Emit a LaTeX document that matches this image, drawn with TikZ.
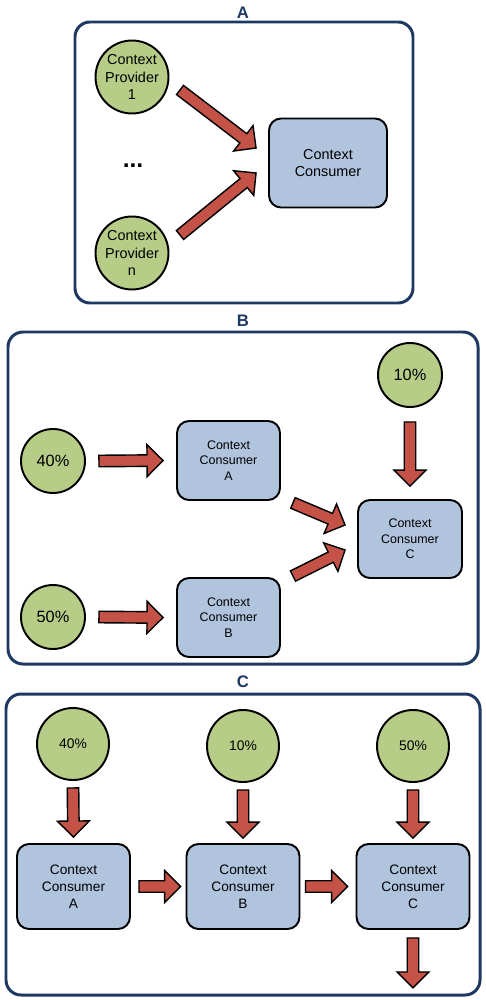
\documentclass[tikz,border=0pt]{standalone}
\usepackage{fontspec}
\setmainfont{Liberation Sans}
\usetikzlibrary{calc}

\definecolor{provgreen}{RGB}{183,205,135}
\definecolor{consblue}{RGB}{176,196,222}
\definecolor{arrowred}{RGB}{196,82,70}
\definecolor{framenavy}{RGB}{30,56,98}

% fat outlined arrow from one point to another
\newcommand{\fatarrow}[2]{%
  \coordinate (fa-s) at (#1);
  \coordinate (fa-t) at (#2);
  \coordinate (fa-b) at ($(fa-t)!0.32cm!(fa-s)$);
  \draw[fat arrow] ($(fa-s)!0.115cm!90:(fa-t)$) -- ($(fa-b)!0.115cm!90:(fa-t)$)
    -- ($(fa-b)!0.32cm!90:(fa-t)$) -- (fa-t) -- ($(fa-b)!0.32cm!-90:(fa-t)$)
    -- ($(fa-b)!0.115cm!-90:(fa-t)$) -- ($(fa-s)!0.115cm!-90:(fa-t)$) -- cycle;}

\begin{document}
\begin{tikzpicture}[x=0.02cm,y=-0.02cm,
    prov/.style={circle,draw=black,fill=provgreen,line width=1.1pt,inner sep=0pt,align=center},
    cons/.style={rectangle,rounded corners=0.24cm,draw=black,fill=consblue,line width=1.1pt,inner sep=0pt,align=center},
    frame/.style={draw=framenavy,line width=1.7pt,rounded corners=0.3cm},
    title/.style={text=framenavy,font=\fontsize{9.5}{10}\selectfont\bfseries},
    fat arrow/.style={draw=black,fill=arrowred,line width=0.8pt,line join=miter}]
  \useasboundingbox (0,0) rectangle (486,1000);

  % panel A
  \node[title] (titleA) at (243,13) {A};
  \draw[frame] (75,22) rectangle (413,303);
  \begin{scope}[every node/.append style={font=\fontsize{8.2}{10}\selectfont}]
    \node[prov,minimum size=1.46cm] (cp1) at (132,77) {Context\\Provider\\1};
    \node[prov,minimum size=1.46cm] (cpn) at (132,253) {Context\\Provider\\n};
    \node[cons,minimum width=2.36cm,minimum height=1.78cm] (cc) at (328,163) {Context\\Consumer};
  \end{scope}
  \node[font=\fontsize{14}{14}\selectfont\bfseries] (dots) at (133,166) {...};
  \fatarrow{$(cp1.center)+(48,13)$}{$(cc.west)+(-12,-15)$}
  \fatarrow{$(cpn.center)+(48,-18)$}{$(cc.west)+(-12,10)$}

  % panel B
  \node[title] (titleB) at (243,321) {B};
  \draw[frame] (8,332) rectangle (478,664);
  \begin{scope}[every node/.append style={font=\fontsize{9.3}{10}\selectfont}]
    \node[prov,minimum size=1.28cm] (b40) at (53,461) {40\%};
    \node[prov,minimum size=1.28cm] (b50) at (53,617) {50\%};
    \node[prov,minimum size=1.28cm] (b10) at (410,375) {10\%};
  \end{scope}
  \begin{scope}[every node/.append style={font=\fontsize{7.1}{8.9}\selectfont}]
    \node[cons,minimum width=2.06cm,minimum height=1.58cm] (bA) at (228.5,460.5) {Context\\Consumer\\A};
    \node[cons,minimum width=2.06cm,minimum height=1.58cm] (bB) at (228.5,617.5) {Context\\Consumer\\B};
    \node[cons,minimum width=2.08cm,minimum height=1.56cm] (bC) at (410,539) {Context\\Consumer\\C};
  \end{scope}
  \fatarrow{$(b40.east)+(13,0)$}{$(bA.west)+(-13,0)$}
  \fatarrow{$(b50.east)+(13,0)$}{$(bB.west)+(-13,0)$}
  \fatarrow{$(b10.south)+(0,14)$}{$(bC.north)+(0,-13)$}
  \fatarrow{$(bA.south east)+(12,2)$}{$(bC.west)+(-12,-14)$}
  \fatarrow{$(bB.north east)+(12,-1)$}{$(bC.west)+(-12,11)$}

  % panel C
  \node[title] (titleC) at (243,682) {C};
  \draw[frame] (6,694) rectangle (480,995);
  \begin{scope}[every node/.append style={font=\fontsize{7.9}{9}\selectfont}]
    \node[prov,minimum size=1.44cm] (c40) at (73,744) {40\%};
    \node[prov,minimum size=1.44cm] (c10) at (243,746) {10\%};
    \node[prov,minimum size=1.44cm] (c50) at (413,746) {50\%};
  \end{scope}
  \begin{scope}[every node/.append style={font=\fontsize{7.8}{9.6}\selectfont}]
    \node[cons,minimum width=2.26cm,minimum height=1.7cm] (cA) at (73.5,886.5) {Context\\Consumer\\A};
    \node[cons,minimum width=2.26cm,minimum height=1.7cm] (cB) at (243,886.5) {Context\\Consumer\\B};
    \node[cons,minimum width=2.26cm,minimum height=1.7cm] (cC) at (413,886.5) {Context\\Consumer\\C};
  \end{scope}
  \coordinate (out) at ($(cC.south)+(0,58)$);
  \fatarrow{$(c40.south)+(0,7)$}{$(cA.north)+(0,-6)$}
  \fatarrow{$(c10.south)+(0,7)$}{$(cB.north)+(0,-5)$}
  \fatarrow{$(c50.south)+(0,7)$}{$(cC.north)+(0,-5)$}
  \fatarrow{$(cA.east)+(8,0)$}{$(cB.west)+(-5,0)$}
  \fatarrow{$(cB.east)+(5,0)$}{$(cC.west)+(-8,0)$}
  \fatarrow{$(cC.south)+(0,8)$}{out}
\end{tikzpicture}
\end{document}
